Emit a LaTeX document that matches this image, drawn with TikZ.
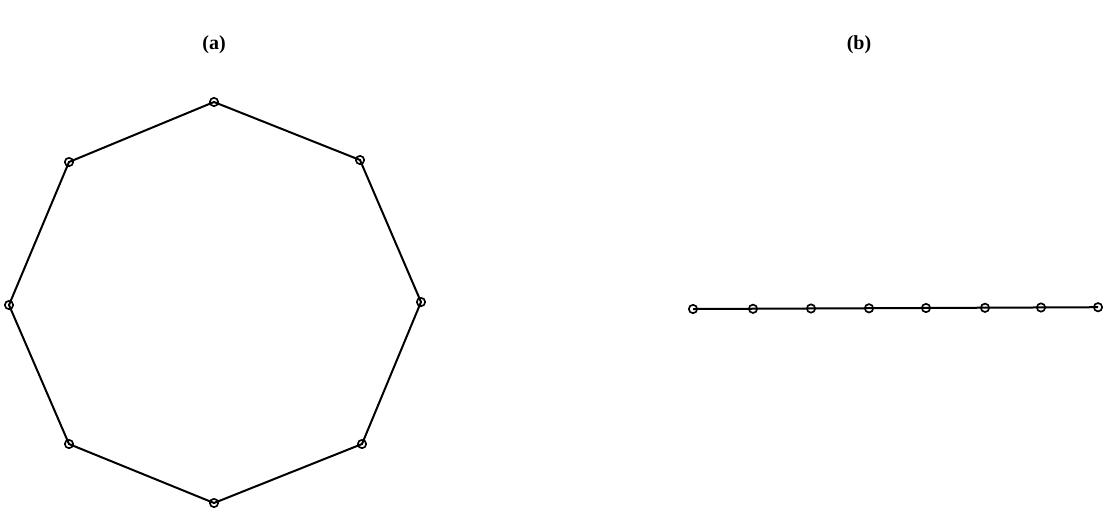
\documentclass[tikz,border=0pt]{standalone}
\usepackage{fontspec}
\setmainfont{Liberation Serif}
\begin{document}
\begin{tikzpicture}[x=0.6pt,y=-0.6pt,
  vert/.style={circle,draw,line width=1pt,inner sep=0pt,minimum size=5pt},
  edge/.style={line width=1.2pt},
  lab/.style={font=\fontsize{12}{14}\selectfont\bfseries}]
\useasboundingbox (0,0) rectangle (1104,516);
\node[lab] (la) at (214,45) {(a)};
\node[lab] (lb) at (859,45) {(b)};
% octagon
\coordinate (o1) at (214,102);
\coordinate (o2) at (360,160);
\coordinate (o3) at (421,302);
\coordinate (o4) at (362,444);
\coordinate (o5) at (214,503);
\coordinate (o6) at (69,444);
\coordinate (o7) at (9,305);
\coordinate (o8) at (69,162);
\draw[edge] (o1) -- (o2) -- (o3) -- (o4) -- (o5) -- (o6) -- (o7) -- (o8) -- cycle;
\foreach \i in {1,...,8} \node[vert] (v\i) at (o\i) {};
% line
\coordinate (p1) at (693,309);
\coordinate (p2) at (753,308.8);
\coordinate (p3) at (811,308.5);
\coordinate (p4) at (869,308.3);
\coordinate (p5) at (926,308);
\coordinate (p6) at (985,307.8);
\coordinate (p7) at (1041,307.5);
\coordinate (p8) at (1098,307.2);
\draw[edge] (p1) -- (p8);
\foreach \i in {1,...,8} \node[vert] (w\i) at (p\i) {};
\end{tikzpicture}
\end{document}
